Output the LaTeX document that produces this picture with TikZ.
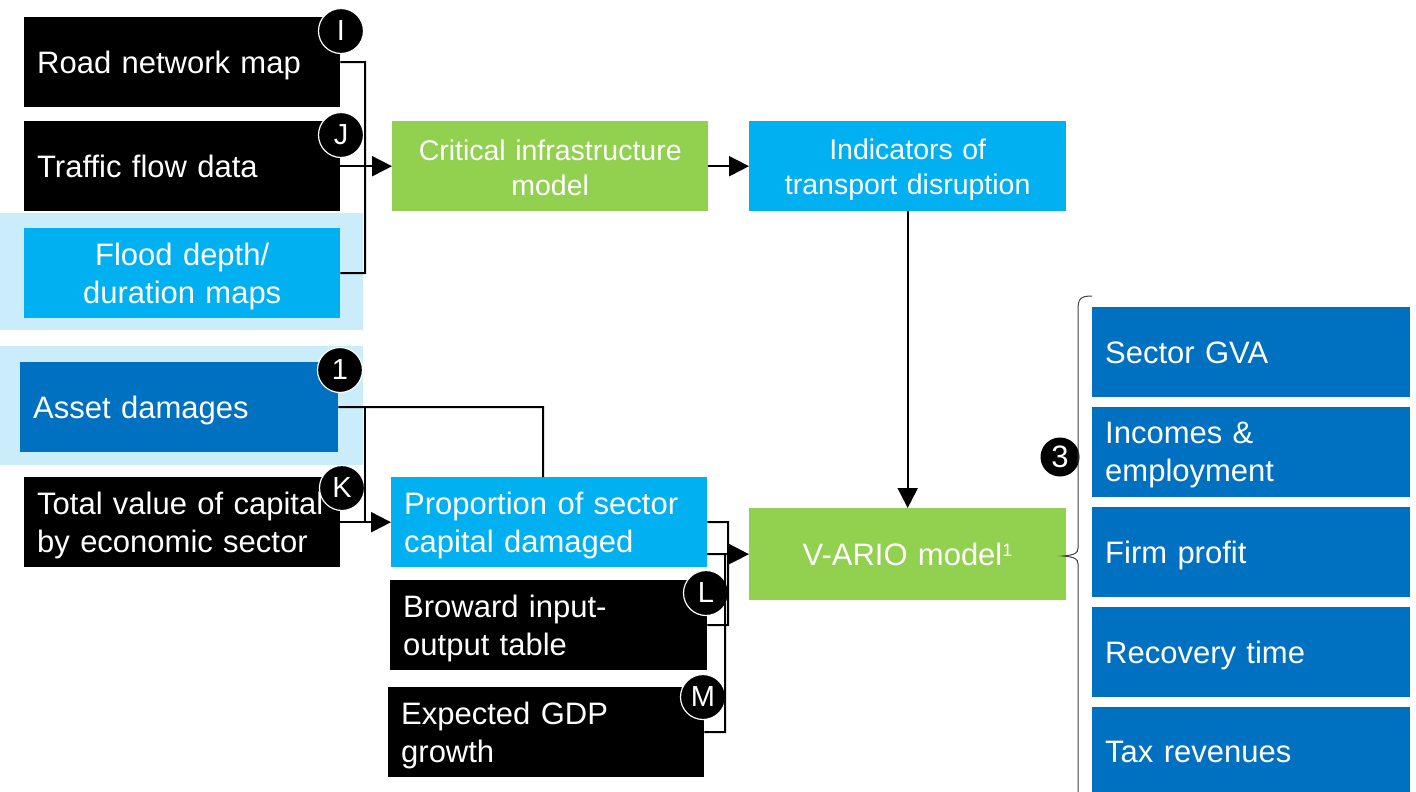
\documentclass[tikz,border=0pt]{standalone}
\usepackage{fontspec}
\setmainfont{Liberation Sans}
\usetikzlibrary{arrows.meta}
\definecolor{mblue}{HTML}{0070C0}
\definecolor{lblue}{HTML}{00B0F0}
\definecolor{lgreen}{HTML}{92D050}
\definecolor{pale}{HTML}{CBEDFB}
\newcommand\bigfont{\fontsize{31}{38}\selectfont}
\newcommand\midfont{\fontsize{28.5}{35}\selectfont}
\newcommand\badgefont{\fontsize{29}{30}\selectfont}
\tikzset{
  box/.style={anchor=north west, inner sep=0pt, minimum height=90pt, text=white, font=\bigfont},
  oneline/.style={text depth=0pt},
  twoline/.style={text depth=38pt},
  leftbox/.style={box, minimum width=#1, text width=#1-26pt, inner xsep=13pt, align=left},
  ctrbox/.style={box, minimum width=#1, text width=#1-10pt, inner xsep=5pt, align=center},
  bg/.style={anchor=north west, inner sep=0pt, fill=pale},
  badge/.style={circle, fill=black, draw=white, line width=1.2pt, minimum size=45pt, inner sep=0pt, text=white, font=\badgefont},
  conn/.style={draw=black, line width=2pt},
  arr/.style={conn, -{Triangle[length=20pt,width=20pt]}},
  brace/.style={draw=black!75, line width=1pt},
}
\begin{document}
\begin{tikzpicture}[x=1pt,y=-1pt]
\useasboundingbox (0,0) rectangle (1416,792);
% backgrounds
\node[bg, minimum width=363pt, minimum height=117pt] (floodbg) at (0,213) {};
\node[bg, minimum width=363pt, minimum height=119pt] (assetbg) at (0,346) {};
% left column
\node[leftbox=316pt, oneline, fill=black] (road) at (24,17) {Road network map};
\node[leftbox=316pt, oneline, fill=black] (traffic) at (24,121) {Traffic flow data};
\node[ctrbox=316pt, twoline, fill=lblue] (flood) at (24,228) {Flood depth/\\duration maps};
\node[leftbox=318pt, oneline, fill=mblue] (asset) at (20,362) {Asset damages};
\node[leftbox=316pt, twoline, fill=black] (total) at (24,477) {Total value of capital\\by economic sector};
% middle
\node[ctrbox=316pt, fill=lgreen, font=\midfont, text depth=33pt] (crit) at (392,121) {Critical infrastructure\\model};
\node[ctrbox=317pt, fill=lblue, font=\midfont, text depth=35pt] (ind) at (749,121) {Indicators of\\transport disruption};
\node[leftbox=316pt, twoline, fill=lblue, inner xsep=12pt] (prop) at (391,477) {Proportion of sector\\capital damaged};
\node[leftbox=317pt, twoline, fill=black, inner xsep=11pt] (brow) at (390,580) {Broward input-\\output table};
\node[leftbox=316pt, twoline, fill=black, inner xsep=11pt] (gdp) at (388,687) {Expected GDP\\growth};
\node[ctrbox=317pt, fill=lgreen, minimum height=92pt] (vario) at (749,508) {V-ARIO model\textsuperscript{\fontsize{18}{18}\selectfont 1}};
% right column
\node[leftbox=318pt, oneline, fill=mblue, inner xsep=12pt] (gva) at (1092,307) {Sector GVA};
\node[leftbox=318pt, twoline, fill=mblue, inner xsep=12pt] (inc) at (1092,407) {Incomes \&\\employment};
\node[leftbox=318pt, oneline, fill=mblue, inner xsep=12pt] (firm) at (1092,507) {Firm profit};
\node[leftbox=318pt, oneline, fill=mblue, inner xsep=12pt] (rec) at (1092,607) {Recovery time};
\node[leftbox=318pt, oneline, fill=mblue, inner xsep=12pt] (tax) at (1092,707) {Tax revenues};
% badges
\node[badge] (bI) at (341,31) {I};
\node[badge] (bJ) at (341,135) {J};
\node[badge] (b1) at (340,370) {1};
\node[badge] (bK) at (342,488) {K};
\node[badge] (bL) at (706,593) {L};
\node[badge] (bM) at (703,697) {M};
\node[badge, draw=none, minimum size=39pt, font=\fontsize{31}{31}\selectfont] (b3) at (1060,457) {3};
% connectors
\coordinate (busAt) at (365,62);
\coordinate (busAb) at (365,273);
\draw[conn] (road.east) -- (busAt) -- (busAb) -- (flood.east);
\draw[arr] (traffic.east) -- (crit.west);
\draw[arr] (crit.east) -- (ind.west);
\draw[arr] (ind.south) -- (vario.north);
\coordinate (busBt) at (365,407);
\coordinate (busBb) at (365,522);
\coordinate (aturn) at (543,407);
\draw[conn] (asset.east) -- (aturn) -- (aturn |- prop.north);
\draw[conn] (busBt) -- (busBb);
\draw[arr] (total.east) -- (prop.west);
\coordinate (busCt) at (728,522);
\coordinate (busCb) at (728,625);
\draw[conn] (prop.east) -- (busCt) -- (busCb) -- (brow.east);
\coordinate (arrS) at (707,554);
\draw[arr] (arrS) -- (vario.west);
\coordinate (busDt) at (725,554);
\coordinate (busDb) at (725,732);
\draw[conn] (busDt) -- (busDb) -- (gdp.east);
% brace
\coordinate (brTop) at (1092,296);
\coordinate (brTip) at (1063,556);
\coordinate (brBot) at (1078,800);
\draw[brace] (brTop) .. controls (1080,296) and (1078,299) .. (1078,310)
  -- (1078,548) .. controls (1078,553) and (1075,555) .. (brTip)
  .. controls (1075,557) and (1078,559) .. (1078,564) -- (brBot);
\end{tikzpicture}
\end{document}
